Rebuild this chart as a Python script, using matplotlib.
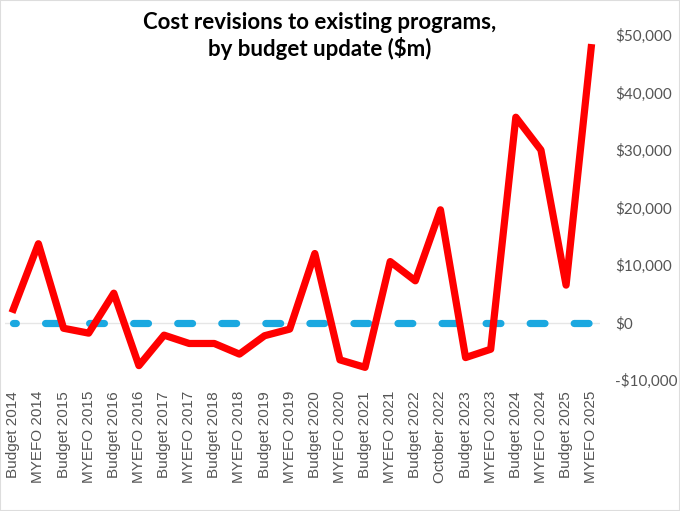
import numpy as np
import matplotlib.pyplot as plt
from matplotlib.ticker import FuncFormatter

# Budget updates and cost revisions ($m)
updates = ['Budget 2014', 'MYEFO 2014', 'Budget 2015', 'MYEFO 2015', 'Budget 2016',
           'MYEFO 2016', 'Budget 2017', 'MYEFO 2017', 'Budget 2018', 'MYEFO 2018',
           'Budget 2019', 'MYEFO 2019', 'Budget 2020', 'MYEFO 2020', 'Budget 2021',
           'MYEFO 2021', 'Budget 2022', 'October 2022', 'Budget 2023', 'MYEFO 2023',
           'Budget 2024', 'MYEFO 2024', 'Budget 2025', 'MYEFO 2025']
revisions = [2300, 13700, -1000, -1850, 5100, -7500, -2200, -3650, -3650, -5500,
             -2300, -1150, 12000, -6500, -7800, 10600, 7250, 19600, -6100, -4650,
             35700, 30000, 6500, 47800]
baseline = [0] * len(updates)
yticks = [-10000, 0, 10000, 20000, 30000, 40000, 50000]

fig = plt.figure(figsize=(6.8, 5.11), dpi=100)
ax = fig.add_axes([5/680, 131/511, 595/680, 345/511])

x = np.arange(len(updates))
ax.axhline(0, color='#e6e6e6', lw=1, zorder=1)
ax.plot(x, baseline, color='#1ba8e0', lw=5.2, ls=(1.66, (2.05, 4.05)),
        dash_capstyle='round', zorder=2)
ax.plot(x, revisions, color='#ff0000', lw=5.2, zorder=3)

ax.set_xlim(-0.33, 23.35)
ax.set_ylim(-10000, 50000)
ax.set_xticks(x)
ax.set_xticklabels(updates, rotation=90, fontsize=11, color='#555555',
                   family='Liberation Sans')
ax.set_yticks(yticks)
ax.yaxis.tick_right()
ax.yaxis.set_major_formatter(FuncFormatter(
    lambda v, p: ('-$' if v < 0 else '$') + f'{abs(int(v)):,}'))
for lab in ax.get_yticklabels():
    lab.set_family('Lato')
    lab.set_fontsize(11)
    lab.set_color('#555555')
ax.tick_params(axis='both', length=0)
ax.tick_params(axis='x', pad=8)
ax.tick_params(axis='y', pad=11)
for s in ax.spines.values():
    s.set_visible(False)

fig.text(0.47, 0.977, 'Cost revisions to existing programs,\nby budget update ($m)',
         ha='center', va='top', fontsize=16, fontweight='bold', family='Lato',
         linespacing=1.2)

fig.patches.append(plt.Rectangle((0, 0), 1, 1, transform=fig.transFigure,
                                 fill=False, edgecolor='#dddddd', lw=1.5))
fig.savefig('out.png', dpi=100)
